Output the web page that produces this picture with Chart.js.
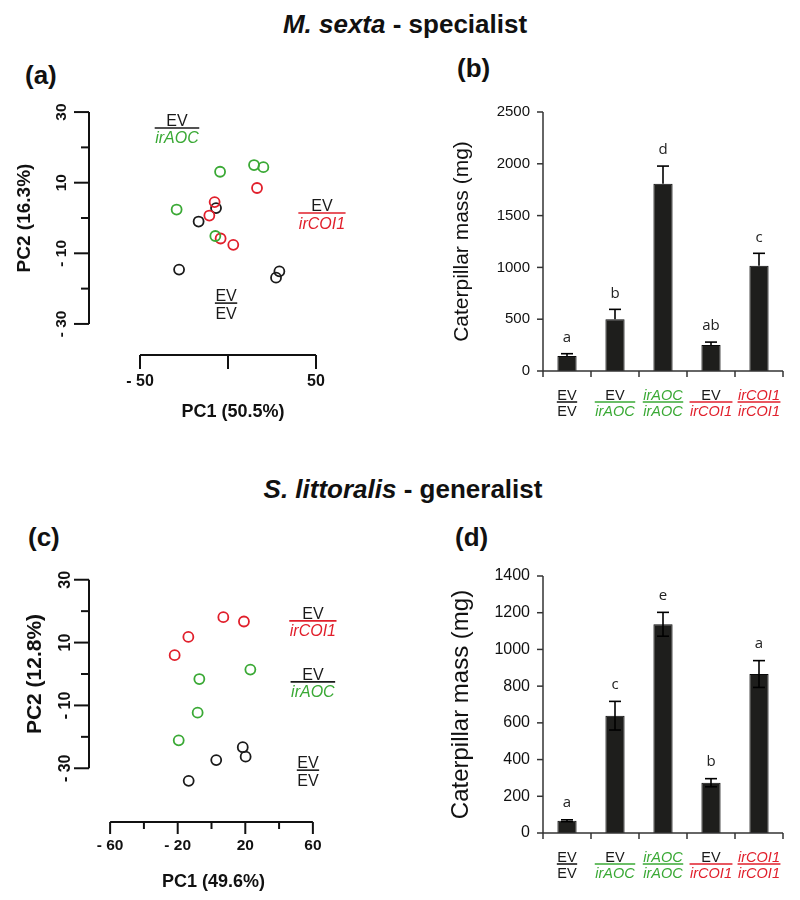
<!DOCTYPE html>
<html>
<head>
<meta charset="utf-8">
<script src="https://cdn.jsdelivr.net/npm/chart.js@4.4.1/dist/chart.umd.min.js"></script>
<style>
body{margin:0;background:#fff;width:800px;height:900px;position:relative;overflow:hidden;font-family:"Liberation Sans",Arial,sans-serif;color:#111}
canvas{position:absolute}
.t{position:absolute;font-weight:bold;white-space:nowrap;line-height:1}
</style>
</head>
<body>
<div class="t" style="left:0;width:810px;text-align:center;top:11px;font-size:26px"><i>M. sexta</i> - specialist</div>
<div class="t" style="left:0;width:806px;text-align:center;top:476px;font-size:26px"><i>S. littoralis</i> - generalist</div>
<div class="t" style="left:25px;top:62px;font-size:26px">(a)</div>
<div class="t" style="left:457px;top:55px;font-size:26px">(b)</div>
<div class="t" style="left:28px;top:524px;font-size:26px">(c)</div>
<div class="t" style="left:455px;top:524px;font-size:26px">(d)</div>

<canvas id="pcaA" width="400" height="390" style="left:0;top:60px"></canvas>
<canvas id="barB" width="400" height="390" style="left:400px;top:60px"></canvas>
<canvas id="pcaC" width="400" height="380" style="left:0;top:520px"></canvas>
<canvas id="barD" width="400" height="380" style="left:400px;top:520px"></canvas>

<script>
const GREEN = '#3aa935', RED = '#e11f2b', BLACK = '#1a1a1a';
const FONT = '"Liberation Sans", Arial, sans-serif';

// (a) M. sexta PCA scores [PC1, PC2]
const sextaEvEv = [[-6.8, 2.8], [-16.7, -1.0], [-27.8, -14.6], [29.2, -15.1], [27.3, -16.9]];
const sextaEvAoc = [[-4.5, 13.1], [14.8, 15.0], [20.1, 14.4], [-29.2, 2.4], [-7.2, -5.1]];
const sextaEvCoi = [[16.5, 8.5], [-7.6, 4.5], [-10.6, 0.7], [-4.2, -5.8], [3.0, -7.6]];

// (c) S. littoralis PCA scores
const littEvEv = [[18.5, -23.3], [20.2, -26.3], [2.8, -27.4], [-13.5, -34.0]];
const littEvAoc = [[23.0, 1.4], [-7.2, -1.6], [-8.2, -12.3], [-19.4, -21.1]];
const littEvCoi = [[7.0, 18.1], [19.2, 16.7], [-13.7, 11.8], [-21.8, 6.0]];

// PCA axis ticks
const pcaYTicks = [30, 20, 10, 0, -10, -20, -30];
const pcaYLabels = ['30', '', '10', '', '- 10', '', '- 30'];
const sextaXTicks = [-50, 0, 50];
const sextaXLabels = ['- 50', '', '50'];
const littXTicks = [-60, -40, -20, 0, 20, 40, 60];
const littXLabels = ['- 60', '', '- 20', '', '20', '', '60'];

// (b), (d) caterpillar mass
const genotypes = [['EV', 'EV'], ['EV', 'irAOC'], ['irAOC', 'irAOC'], ['EV', 'irCOI1'], ['irCOI1', 'irCOI1']];
const sextaMass = [145, 500, 1808, 251, 1016];
const sextaErr = [22, 95, 170, 28, 120];
const sextaLetters = ['a', 'b', 'd', 'ab', 'c'];
const sextaYTicks = [0, 500, 1000, 1500, 2000, 2500];

const littMass = [67, 639, 1137, 274, 866];
const littErr = [5, 78, 65, 22, 73];
const littLetters = ['a', 'c', 'e', 'b', 'a'];
const littYTicks = [0, 200, 400, 600, 800, 1000, 1200, 1400];

function colFor(s) { return s === 'EV' ? BLACK : (s === 'irAOC' ? GREEN : RED); }
function fontFor(s, size) { return (s === 'EV' ? '' : 'italic ') + size + 'px ' + FONT; }

// stacked "top over bottom" genotype label
function drawFrac(ctx, cx, ly, top, bot, size, lineCol) {
    ctx.font = fontFor(top, size);
    const w1 = ctx.measureText(top).width;
    ctx.font = fontFor(bot, size);
    const w2 = ctx.measureText(bot).width;
    const w = Math.max(w1, w2) + 1;
    ctx.strokeStyle = lineCol || colFor(bot);
    ctx.lineWidth = 1.6;
    ctx.beginPath(); ctx.moveTo(cx - w / 2, ly); ctx.lineTo(cx + w / 2, ly); ctx.stroke();
    ctx.textAlign = 'center';
    ctx.textBaseline = 'alphabetic';
    ctx.font = fontFor(top, size); ctx.fillStyle = colFor(top);
    ctx.fillText(top, cx, ly - 2);
    ctx.font = fontFor(bot, size); ctx.fillStyle = colFor(bot);
    ctx.fillText(bot, cx, ly + 4 + size * 0.72);
}

function seg(ctx, x1, y1, x2, y2) {
    ctx.beginPath(); ctx.moveTo(x1, y1); ctx.lineTo(x2, y2); ctx.stroke();
}

function vText(ctx, text, x, y, font) {
    ctx.save();
    ctx.translate(x, y);
    ctx.rotate(-Math.PI / 2);
    ctx.font = font;
    ctx.textAlign = 'center';
    ctx.textBaseline = 'middle';
    ctx.fillText(text, 0, 0);
    ctx.restore();
}

// R-style detached axes + group labels for the PCA plots
function pcaPlugin(cfg) {
    return {
        id: 'pcaAxes',
        afterDraw(chart) {
            const ctx = chart.ctx, a = chart.chartArea;
            const x = chart.scales.x, y = chart.scales.y;
            ctx.save();
            ctx.strokeStyle = '#111';
            ctx.fillStyle = '#111';
            ctx.lineWidth = 2;
            // y axis
            const yTop = y.getPixelForValue(Math.max(...cfg.yTicks));
            const yBot = y.getPixelForValue(Math.min(...cfg.yTicks));
            seg(ctx, a.left, yTop, a.left, yBot);
            cfg.yTicks.forEach((v, i) => {
                const p = y.getPixelForValue(v);
                seg(ctx, a.left - (cfg.yLabels[i] ? 15 : 8), p, a.left, p);
                if (cfg.yLabels[i]) vText(ctx, cfg.yLabels[i], a.left - cfg.yLabOff, p, 'bold ' + cfg.tickSize + 'px ' + FONT);
            });
            // x axis
            const xL = x.getPixelForValue(Math.min(...cfg.xTicks));
            const xR = x.getPixelForValue(Math.max(...cfg.xTicks));
            seg(ctx, xL, a.bottom, xR, a.bottom);
            ctx.font = 'bold ' + cfg.xTickSize + 'px ' + FONT;
            ctx.textAlign = 'center';
            ctx.textBaseline = 'middle';
            cfg.xTicks.forEach((v, i) => {
                const p = x.getPixelForValue(v);
                seg(ctx, p, a.bottom, p, a.bottom + (cfg.xLabels[i] ? cfg.xMajor : cfg.xMinor));
                if (cfg.xLabels[i]) ctx.fillText(cfg.xLabels[i], p, a.bottom + cfg.xLabOff);
            });
            // axis titles
            ctx.font = 'bold ' + cfg.xTitleSize + 'px ' + FONT;
            ctx.fillText(cfg.xTitle, (xL + xR) / 2 + cfg.xTitleShift, a.bottom + cfg.xTitleOff);
            vText(ctx, cfg.yTitle, cfg.yTitleX, (yTop + yBot) / 2, 'bold ' + cfg.yTitleSize + 'px ' + FONT);
            // group labels
            cfg.notes.forEach(n => {
                drawFrac(ctx, x.getPixelForValue(n.x), y.getPixelForValue(n.y), n.top, n.bot, 16, n.line);
            });
            ctx.restore();
        }
    };
}

function pcaChart(id, groups, cfg) {
    const toXY = arr => arr.map(p => ({ x: p[0], y: p[1] }));
    new Chart(document.getElementById(id), {
        type: 'scatter',
        data: {
            datasets: groups.map(g => ({
                data: toXY(g.data),
                borderColor: g.color,
                backgroundColor: 'rgba(0,0,0,0)',
                pointRadius: 5,
                pointBorderWidth: 1.8,
                pointHoverRadius: 5,
                clip: false
            }))
        },
        options: {
            responsive: false,
            animation: false,
            devicePixelRatio: 1,
            layout: { autoPadding: false, padding: cfg.padding },
            plugins: { legend: { display: false }, tooltip: { enabled: false } },
            scales: {
                x: { type: 'linear', min: cfg.xMin, max: cfg.xMax, display: false },
                y: { type: 'linear', min: cfg.yMin, max: cfg.yMax, display: false }
            }
        },
        plugins: [pcaPlugin(cfg)]
    });
}

// axes, error bars, letters and genotype labels for the bar plots
function barPlugin(cfg) {
    return {
        id: 'barDeco',
        afterDatasetsDraw(chart) {
            const ctx = chart.ctx, x = chart.scales.x, y = chart.scales.y;
            ctx.save();
            ctx.strokeStyle = '#000';
            ctx.lineWidth = 1.6;
            cfg.values.forEach((v, i) => {
                const cx = x.getPixelForValue(i);
                const top = y.getPixelForValue(v + cfg.err[i]);
                const low = y.getPixelForValue(cfg.twoSided ? v - cfg.err[i] : v);
                seg(ctx, cx, top, cx, low);
                seg(ctx, cx - 6, top, cx + 6, top);
                if (cfg.twoSided) seg(ctx, cx - 6, low, cx + 6, low);
                ctx.fillStyle = '#222';
                ctx.font = cfg.letterSize + 'px "Open Sans", ' + FONT;
                ctx.textAlign = 'center';
                ctx.textBaseline = 'middle';
                ctx.fillText(cfg.letters[i], cx, top - cfg.letterOff);
            });
            ctx.restore();
        },
        afterDraw(chart) {
            const ctx = chart.ctx, a = chart.chartArea, x = chart.scales.x, y = chart.scales.y;
            ctx.save();
            ctx.strokeStyle = '#333';
            ctx.fillStyle = '#111';
            ctx.lineWidth = 1.5;
            const yTop = y.getPixelForValue(Math.max(...cfg.yTicks));
            seg(ctx, a.left, yTop, a.left, a.bottom);
            seg(ctx, a.left, a.bottom, a.right, a.bottom);
            ctx.font = cfg.tickSize + 'px ' + FONT;
            ctx.textAlign = 'right';
            ctx.textBaseline = 'middle';
            cfg.yTicks.forEach(v => {
                const p = y.getPixelForValue(v);
                seg(ctx, a.left - 6, p, a.left, p);
                ctx.fillText(String(v), a.left - 13, p);
            });
            const n = cfg.values.length, w = (a.right - a.left) / n;
            for (let i = 0; i <= n; i++) seg(ctx, a.left + i * w, a.bottom, a.left + i * w, a.bottom + 6);
            ctx.fillStyle = '#111';
            vText(ctx, 'Caterpillar mass (mg)', cfg.yTitleX, (yTop + a.bottom) / 2, cfg.yTitleSize + 'px ' + FONT);
            cfg.cats.forEach((c, i) => {
                drawFrac(ctx, x.getPixelForValue(i), a.bottom + 31, c[0], c[1], 14.5);
            });
            ctx.restore();
        }
    };
}

function barChart(id, values, cfg) {
    new Chart(document.getElementById(id), {
        type: 'bar',
        data: {
            labels: genotypes.map(g => g.join('/')),
            datasets: [{
                data: values,
                backgroundColor: '#1e1e1c',
                borderColor: '#0a0a0a',
                borderWidth: 1,
                barPercentage: 0.4,
                categoryPercentage: 1.0
            }]
        },
        options: {
            responsive: false,
            animation: false,
            devicePixelRatio: 1,
            layout: { autoPadding: false, padding: cfg.padding },
            plugins: { legend: { display: false }, tooltip: { enabled: false } },
            scales: {
                x: { display: false },
                y: { min: 0, max: Math.max(...cfg.yTicks), display: false }
            }
        },
        plugins: [barPlugin(Object.assign({ values: values, cats: genotypes }, cfg))]
    });
}

pcaChart('pcaA', [
    { data: sextaEvAoc, color: GREEN },
    { data: sextaEvCoi, color: RED },
    { data: sextaEvEv, color: BLACK }
], {
    xMin: -79, xMax: 79, yMin: -38.8, yMax: 38.8,
    padding: { left: 89, right: 33, top: 21, bottom: 95 },
    yTicks: pcaYTicks, yLabels: pcaYLabels, xTicks: sextaXTicks, xLabels: sextaXLabels,
    tickSize: 15.5, yLabOff: 27, xTickSize: 16, xMajor: 14, xMinor: 14, xLabOff: 27,
    xTitle: 'PC1 (50.5%)', xTitleSize: 18, xTitleOff: 57, xTitleShift: 5,
    yTitle: 'PC2 (16.3%)', yTitleX: 25, yTitleSize: 19,
    notes: [
        { x: -29, y: 25.5, top: 'EV', bot: 'irAOC', line: BLACK },
        { x: 53.4, y: 1.4, top: 'EV', bot: 'irCOI1', line: RED },
        { x: -1.1, y: -24.1, top: 'EV', bot: 'EV', line: BLACK }
    ]
});

pcaChart('pcaC', [
    { data: littEvCoi, color: RED },
    { data: littEvAoc, color: GREEN },
    { data: littEvEv, color: BLACK }
], {
    xMin: -72.5, xMax: 72.5, yMin: -47.1, yMax: 47.1,
    padding: { left: 89, right: 66, top: 6, bottom: 78 },
    yTicks: pcaYTicks, yLabels: pcaYLabels, xTicks: littXTicks, xLabels: littXLabels,
    tickSize: 16, yLabOff: 23, xTickSize: 15.5, xMajor: 12, xMinor: 7, xLabOff: 24,
    xTitle: 'PC1 (49.6%)', xTitleSize: 18, xTitleOff: 60, xTitleShift: 2,
    yTitle: 'PC2 (12.8%)', yTitleX: 35, yTitleSize: 21,
    notes: [
        { x: 60, y: 16.9, top: 'EV', bot: 'irCOI1', line: RED },
        { x: 60, y: -2.5, top: 'EV', bot: 'irAOC', line: BLACK },
        { x: 57.1, y: -30.6, top: 'EV', bot: 'EV', line: BLACK }
    ]
});

barChart('barB', sextaMass, {
    err: sextaErr, letters: sextaLetters, twoSided: false, yTicks: sextaYTicks,
    padding: { left: 143, right: 17, top: 52, bottom: 79 },
    tickSize: 15, letterSize: 15, letterOff: 16, yTitleX: 62, yTitleSize: 21
});

barChart('barD', littMass, {
    err: littErr, letters: littLetters, twoSided: true, yTicks: littYTicks,
    padding: { left: 143, right: 17, top: 56, bottom: 67 },
    tickSize: 16, letterSize: 15, letterOff: 17, yTitleX: 61, yTitleSize: 24
});
</script>
</body>
</html>
